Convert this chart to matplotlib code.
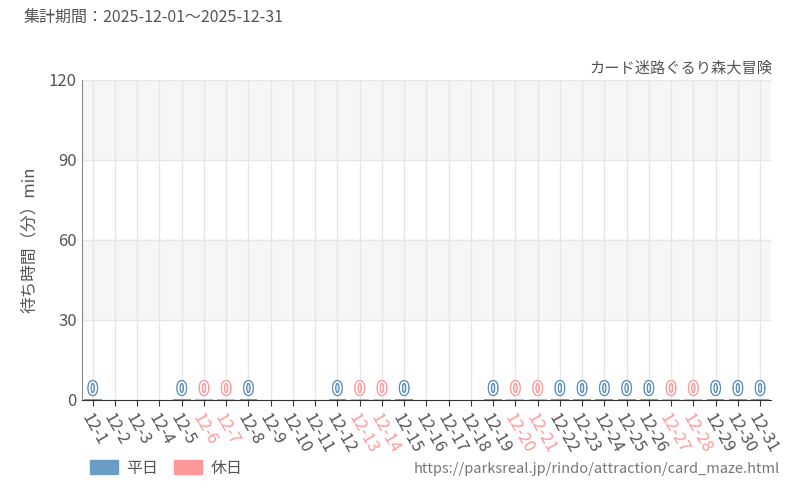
import matplotlib
matplotlib.use("Agg")
from matplotlib import pyplot as plt
import matplotlib.patheffects as pe

plt.rcParams['font.family'] = ['Noto Sans CJK JP', 'DejaVu Sans']

days = [f"12-{d}" for d in range(1, 32)]
holidays = [6, 7, 13, 14, 20, 21, 27, 28]
has_data = [1, 5, 6, 7, 8, 12, 13, 14, 15, 19, 20, 21, 22, 23, 24, 25, 26, 27, 28, 29, 30, 31]
wait_values = [0] * len(has_data)

weekday_color = "#6a9dc6"
holiday_color = "#ff9898"
label_weekday = "#5b8fbf"
text_color = "#555555"

fig = plt.figure(figsize=(8, 5), dpi=100)
ax = fig.add_axes([0.102, 0.2, 0.862, 0.64])

ax.axhspan(30, 60, color="#f6f6f6", zorder=0)
ax.axhspan(90, 120, color="#f6f6f6", zorder=0)

x_pos = list(range(len(days)))
for d, v in zip(has_data, wait_values):
    col = holiday_color if d in holidays else weekday_color
    ax.bar(d - 1, max(v, 0.4), width=0.8, color=col, zorder=3)
    ax.text(d - 1, v + 0.6, str(v), ha='center', va='bottom', fontsize=12.5,
            color="white", zorder=4,
            path_effects=[pe.withStroke(linewidth=2.2,
                                        foreground=holiday_color if d in holidays else label_weekday),
                          pe.Normal()])

ax.set_xlim(-0.5, len(days) - 0.5)
ax.set_ylim(0, 120)
ax.set_yticks([0, 30, 60, 90, 120])
ax.set_xticks(x_pos)
ax.set_xticklabels(days, rotation=-60, ha='left', rotation_mode='anchor', fontsize=12)
for i, lbl in enumerate(ax.get_xticklabels()):
    lbl.set_color(holiday_color if (i + 1) in holidays else text_color)
ax.tick_params(axis='y', labelsize=12, colors=text_color, length=0)
ax.tick_params(axis='x', length=4, color="#333333")
ax.grid(True, color="#e6e6e6", linewidth=1, zorder=1)
ax.set_axisbelow(True)
for s in ['top', 'right']:
    ax.spines[s].set_visible(False)
ax.spines['left'].set_color("#888888")
ax.spines['bottom'].set_color("#333333")
ax.set_ylabel("待ち時間（分）min", color=text_color, fontsize=12, labelpad=8)

fig.text(0.03, 0.955, "集計期間：2025-12-01～2025-12-31", fontsize=11.5, color=text_color)
fig.text(0.965, 0.855, "カード迷路ぐるり森大冒険", fontsize=11, color=text_color, ha='right')
fig.text(0.975, 0.055, "https://parksreal.jp/rindo/attraction/card_maze.html", fontsize=10.5,
         color="#777777", ha='right')

fig.patches.append(plt.Rectangle((0.113, 0.053), 0.035, 0.028, transform=fig.transFigure,
                                 color=weekday_color))
fig.text(0.158, 0.055, "平日", fontsize=11.5, color=text_color)
fig.patches.append(plt.Rectangle((0.218, 0.053), 0.035, 0.028, transform=fig.transFigure,
                                 color=holiday_color))
fig.text(0.263, 0.055, "休日", fontsize=11.5, color=text_color)

fig.savefig("out.png", dpi=100)
